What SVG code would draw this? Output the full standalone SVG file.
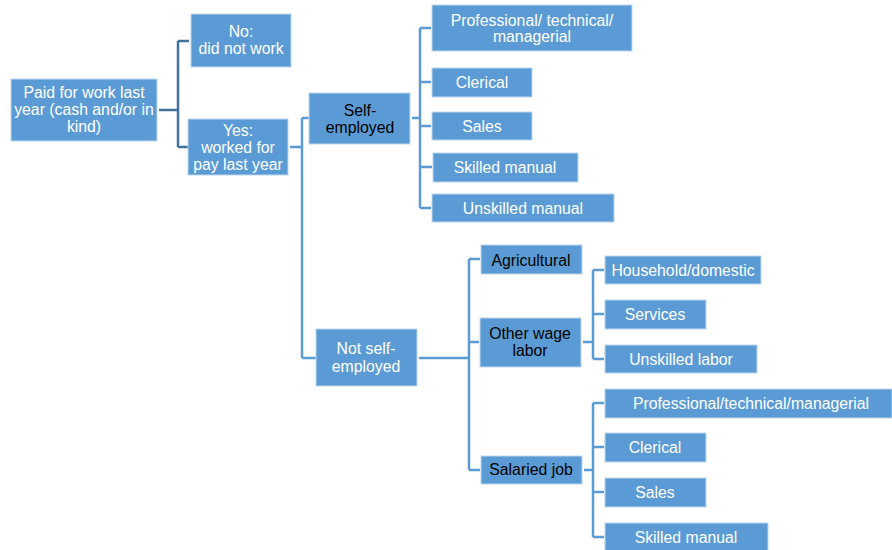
<svg xmlns="http://www.w3.org/2000/svg" width="892" height="550" viewBox="0 0 892 550">
<style>
.box{fill:#5B9BD5;stroke:#BDD7EE;stroke-width:1}
.t{font-family:"Liberation Sans",Arial,sans-serif;font-size:15.8px;fill:#fff;text-anchor:middle}
.k{fill:#000}
.c{fill:none;stroke:#5B9BD5;stroke-width:2.5}
.c0{stroke:#41719C}
</style>
<rect width="892" height="550" fill="#fff"/>
<g id="connectors">
<path class="c c0" d="M159,110 H178 M178,41 V147 M178,41 H189 M178,147 H188"/>
<path class="c" d="M290,147 H302 M302,118 V358 M302,118 H309 M302,358 H316"/>
<path class="c" d="M412,118 H421 M420,28 V208 M420,28 H431 M420,82 H431 M420,126 H431 M420,167 H432 M420,208 H431"/>
<path class="c" d="M419,358 H469 M469,259 V470 M469,259 H480 M469,342 H479 M469,470 H480"/>
<path class="c" d="M583,342 H593 M593,270 V359 M593,270 H604 M593,314 H604 M593,359 H604"/>
<path class="c" d="M584,470 H593 M593,403 V537 M593,403 H604 M593,447 H604 M593,492 H604 M593,537 H604"/>
</g>
<g id="root"><rect class="box" x="11" y="79" width="146" height="62"/><text class="t" x="84" y="98">Paid for work last</text><text class="t" x="84" y="115">year (cash and/or in</text><text class="t" x="84" y="132">kind)</text></g>
<g id="no"><rect class="box" x="191" y="14" width="100" height="53"/><text class="t" x="241" y="37">No:</text><text class="t" x="241" y="54">did not work</text></g>
<g id="yes"><rect class="box" x="188" y="119" width="100" height="56"/><text class="t" x="238" y="136">Yes:</text><text class="t" x="238" y="153">worked for</text><text class="t" x="238" y="170">pay last year</text></g>
<g id="self"><rect class="box" x="309" y="93" width="101" height="51"/><text class="t k" x="360" y="116">Self-</text><text class="t k" x="360" y="133">employed</text></g>
<g id="notself"><rect class="box" x="316" y="329" width="101" height="57"/><text class="t" x="366" y="354">Not self-</text><text class="t" x="366" y="372">employed</text></g>
<g id="se-pro"><rect class="box" x="432" y="5" width="200" height="46"/><text class="t" x="532" y="26">Professional/ technical/</text><text class="t" x="532" y="42">managerial</text></g>
<g id="se-cler"><rect class="box" x="432" y="68" width="100" height="29"/><text class="t" x="482" y="88">Clerical</text></g>
<g id="se-sales"><rect class="box" x="432" y="112" width="100" height="28"/><text class="t" x="482" y="132">Sales</text></g>
<g id="se-skilled"><rect class="box" x="433" y="153" width="145" height="29"/><text class="t" x="505" y="173">Skilled manual</text></g>
<g id="se-unskilled"><rect class="box" x="432" y="194" width="182" height="28"/><text class="t" x="523" y="214">Unskilled manual</text></g>
<g id="agri"><rect class="box" x="481" y="245" width="101" height="29"/><text class="t k" x="531" y="266">Agricultural</text></g>
<g id="otherwage"><rect class="box" x="480" y="318" width="101" height="49"/><text class="t k" x="530" y="339">Other wage</text><text class="t k" x="530" y="356">labor</text></g>
<g id="salaried"><rect class="box" x="481" y="456" width="101" height="28"/><text class="t k" x="531" y="475">Salaried job</text></g>
<g id="ow-house"><rect class="box" x="605" y="256" width="156" height="28"/><text class="t" x="683" y="276">Household/domestic</text></g>
<g id="ow-serv"><rect class="box" x="605" y="300" width="101" height="29"/><text class="t" x="655" y="320">Services</text></g>
<g id="ow-unsk"><rect class="box" x="605" y="345" width="152" height="28"/><text class="t" x="681" y="365">Unskilled labor</text></g>
<g id="sj-pro"><rect class="box" x="605" y="389" width="287" height="29"/><text class="t" x="751" y="409">Professional/technical/managerial</text></g>
<g id="sj-cler"><rect class="box" x="605" y="433" width="101" height="29"/><text class="t" x="655" y="453">Clerical</text></g>
<g id="sj-sales"><rect class="box" x="605" y="478" width="101" height="29"/><text class="t" x="655" y="498">Sales</text></g>
<g id="sj-skilled"><rect class="box" x="605" y="523" width="163" height="28"/><text class="t" x="686" y="543">Skilled manual</text></g>
</svg>
